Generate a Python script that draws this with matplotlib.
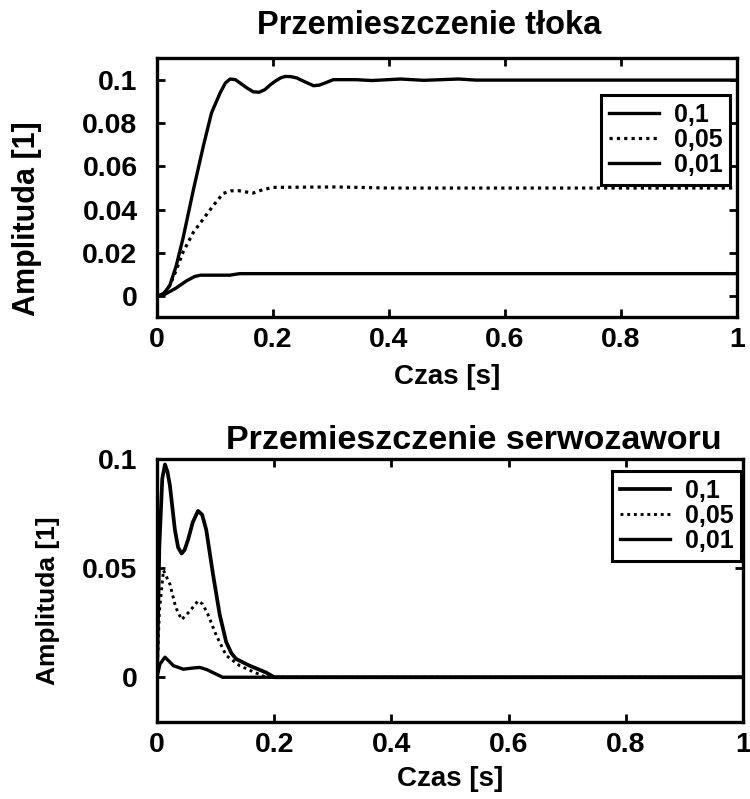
import matplotlib
matplotlib.use("Agg")
import matplotlib.pyplot as plt

plt.rcParams['font.family'] = ['Liberation Sans', 'DejaVu Sans']
plt.rcParams['font.weight'] = 'bold'
plt.rcParams['axes.labelweight'] = 'bold'
plt.rcParams['axes.titleweight'] = 'bold'

# ---- texts ----
top_title = "Przemieszczenie tłoka"
bot_title = "Przemieszczenie serwozaworu"
xlabel = "Czas [s]"
ylabel = "Amplituda [1]"
legend_labels = ["0,1", "0,05", "0,01"]

# ---- data: top chart (piston displacement) ----
top_t_01 = [0, 0.012, 0.022, 0.033, 0.045, 0.063, 0.08, 0.094, 0.109, 0.118, 0.126, 0.135, 0.143,
            0.155, 0.166, 0.176, 0.186, 0.196, 0.205, 0.213, 0.221, 0.231, 0.241, 0.255, 0.27,
            0.28, 0.29, 0.304, 0.344, 0.37, 0.42, 0.46, 0.52, 0.55, 1.0]
top_v_01 = [0, 0.0015, 0.005, 0.014, 0.027, 0.0495, 0.0695, 0.0847, 0.094, 0.0985, 0.1003, 0.1, 0.0985,
            0.0962, 0.0944, 0.0942, 0.0954, 0.0978, 0.0995, 0.1008, 0.1015, 0.1014, 0.1008, 0.099, 0.0972,
            0.0975, 0.0985, 0.1, 0.1, 0.0996, 0.1003, 0.0997, 0.1003, 0.0998, 0.0998]

top_t_005 = [0, 0.012, 0.022, 0.033, 0.045, 0.063, 0.08, 0.097, 0.114, 0.127, 0.14, 0.153, 0.166,
             0.183, 0.2, 0.246, 0.31, 0.4, 1.0]
top_v_005 = [0, 0.0015, 0.005, 0.012, 0.0205, 0.0297, 0.0358, 0.0419, 0.0475, 0.0487, 0.0488, 0.0482, 0.0477,
             0.0493, 0.0503, 0.0504, 0.0505, 0.05, 0.05]

top_t_001 = [0, 0.015, 0.032, 0.051, 0.065, 0.075, 0.126, 0.135, 0.143, 1.0]
top_v_001 = [0, 0.0012, 0.0037, 0.0072, 0.0092, 0.0098, 0.0098, 0.0102, 0.0105, 0.0105]

# ---- data: bottom chart (servo valve displacement) ----
bot_t_01 = [0, 0.004, 0.009, 0.0136, 0.018, 0.022, 0.0305, 0.036, 0.042, 0.047, 0.053, 0.061, 0.07,
            0.077, 0.084, 0.0955, 0.107, 0.118, 0.127, 0.135, 0.158, 0.186, 0.2, 1.0]
bot_v_01 = [0, 0.06, 0.091, 0.0975, 0.094, 0.0879, 0.0676, 0.0595, 0.0567, 0.0583, 0.063, 0.071, 0.0762,
            0.0745, 0.0676, 0.0473, 0.0287, 0.0162, 0.011, 0.0084, 0.0053, 0.0022, 0.0, 0.0]

bot_t_005 = [0, 0.004, 0.011, 0.022, 0.032, 0.042, 0.056, 0.07, 0.078, 0.087, 0.101, 0.118, 0.141,
             0.167, 0.186, 1.0]
bot_v_005 = [0, 0.03, 0.049, 0.0427, 0.032, 0.0264, 0.0303, 0.035, 0.0335, 0.0287, 0.0193, 0.01, 0.0053,
             0.0022, 0.0, 0.0]

bot_t_001 = [0, 0.005, 0.0136, 0.02, 0.028, 0.045, 0.06, 0.073, 0.085, 0.095, 0.112, 1.0]
bot_v_001 = [0, 0.006, 0.0092, 0.0075, 0.0053, 0.0037, 0.0042, 0.0045, 0.0035, 0.0022, 0.0, 0.0]

xticks = [0, 0.2, 0.4, 0.6, 0.8, 1]
xticklabels = ["0", "0.2", "0.4", "0.6", "0.8", "1"]
top_yticks = [0, 0.02, 0.04, 0.06, 0.08, 0.1]
top_yticklabels = ["0", "0.02", "0.04", "0.06", "0.08", "0.1"]
bot_yticks = [0, 0.05, 0.1]
bot_yticklabels = ["0", "0.05", "0.1"]

W, H = 750, 799
fig = plt.figure(figsize=(W / 100, H / 100), dpi=100)


def frac(l, t, r, b):
    return [l / W, 1 - b / H, (r - l) / W, (b - t) / H]


ax1 = fig.add_axes(frac(157, 58, 737, 317))
ax2 = fig.add_axes(frac(157, 459, 743, 722))

for ax in (ax1, ax2):
    for s in ax.spines.values():
        s.set_linewidth(2.4)
        s.set_color('black')
    ax.tick_params(direction='in', length=6, width=2.0, top=True, right=True,
                   labelsize=20.5, pad=7)
    ax.tick_params(axis='y', pad=14)
    ax.set_xlim(0, 1)
    ax.set_xticks(xticks)
    ax.set_xticklabels(xticklabels)

dots = (0, (1, 1.3))

# top
ax1.plot(top_t_01, top_v_01, color='black', lw=2.4, label=legend_labels[0])
ax1.plot(top_t_005, top_v_005, color='black', lw=2.3, ls=dots, label=legend_labels[1])
ax1.plot(top_t_001, top_v_001, color='black', lw=2.4, label=legend_labels[2])
ax1.set_ylim(-0.0095, 0.11)
ax1.set_yticks(top_yticks)
ax1.set_yticklabels(top_yticklabels)
ax1.set_title(top_title, fontsize=23.5, pad=17, x=0.47)
ax1.set_xlabel(xlabel, fontsize=20, labelpad=8)
ax1.set_ylabel(ylabel, fontsize=22)
ax1.yaxis.set_label_coords(-0.198, 0.38)
leg1 = ax1.legend(loc='upper right', bbox_to_anchor=(0.988, 0.857), borderaxespad=0,
                  fontsize=18, frameon=True, fancybox=False, framealpha=1,
                  handlelength=2.0, labelspacing=0.05, handletextpad=0.6, borderpad=0.3)
leg1.get_frame().set_edgecolor('black')
leg1.get_frame().set_linewidth(2.2)

# bottom
ax2.plot(bot_t_01, bot_v_01, color='black', lw=2.7, label=legend_labels[0])
ax2.plot(bot_t_005, bot_v_005, color='black', lw=2.1, ls=dots, label=legend_labels[1])
ax2.plot(bot_t_001, bot_v_001, color='black', lw=2.4, label=legend_labels[2])
ax2.set_ylim(-0.0205, 0.1)
ax2.set_yticks(bot_yticks)
ax2.set_yticklabels(bot_yticklabels)
ax2.set_title(bot_title, fontsize=24.5, pad=7, x=0.54)
ax2.set_xlabel(xlabel, fontsize=20, labelpad=6)
ax2.set_ylabel(ylabel, fontsize=19)
ax2.yaxis.set_label_coords(-0.165, 0.46)
leg2 = ax2.legend(loc='upper right', bbox_to_anchor=(0.997, 0.954), borderaxespad=0,
                  fontsize=18, frameon=True, fancybox=False, framealpha=1,
                  handlelength=2.0, labelspacing=0.05, handletextpad=0.6, borderpad=0.3)
leg2.get_frame().set_edgecolor('black')
leg2.get_frame().set_linewidth(2.2)

fig.savefig("out.png", dpi=100)
